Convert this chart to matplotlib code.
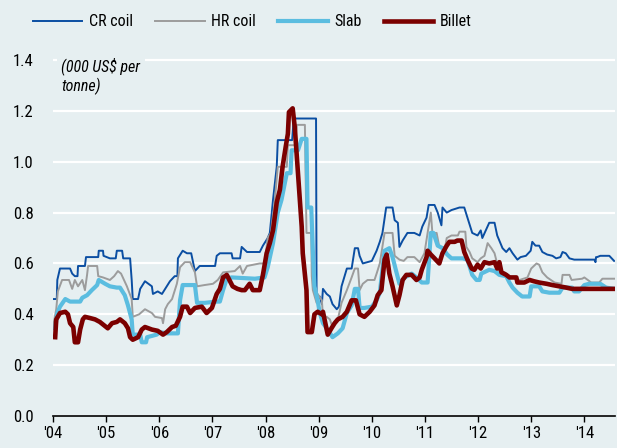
"""
Steel price chart: CR coil, HR coil, slab and billet, 2004-2014.
"""

import matplotlib
matplotlib.use("Agg")
import matplotlib.pyplot as plt
from matplotlib import font_manager

# --- data (000 US$ per tonne), time as decimal year ---
cr_t = [2004.00, 2004.07, 2004.08, 2004.13, 2004.32, 2004.36, 2004.41, 2004.46, 2004.47, 2004.60,
        2004.62, 2004.85, 2004.86, 2004.94, 2004.95, 2005.07, 2005.18, 2005.20, 2005.30, 2005.32,
        2005.45, 2005.48, 2005.50, 2005.60, 2005.64, 2005.73, 2005.86, 2005.88, 2005.97, 2006.05,
        2006.11, 2006.20, 2006.29, 2006.34, 2006.35, 2006.44, 2006.52, 2006.60, 2006.67, 2006.76,
        2007.05, 2007.08, 2007.14, 2007.36, 2007.38, 2007.52, 2007.55, 2007.65, 2007.89, 2007.95,
        2008.04, 2008.08, 2008.14, 2008.21, 2008.23, 2008.50, 2008.53, 2008.95, 2008.96, 2009.02,
        2009.06, 2009.08, 2009.15, 2009.21, 2009.26, 2009.34, 2009.38, 2009.43, 2009.53, 2009.62,
        2009.68, 2009.74, 2009.77, 2009.83, 2010.00, 2010.09, 2010.15, 2010.20, 2010.27, 2010.39,
        2010.43, 2010.49, 2010.52, 2010.58, 2010.67, 2010.80, 2010.90, 2010.95, 2011.03, 2011.07,
        2011.18, 2011.24, 2011.31, 2011.33, 2011.41, 2011.50, 2011.65, 2011.74, 2011.80, 2011.89,
        2011.99, 2012.05, 2012.08, 2012.21, 2012.31, 2012.36, 2012.40, 2012.46, 2012.53, 2012.59,
        2012.65, 2012.74, 2012.80, 2012.90, 2012.99, 2013.02, 2013.08, 2013.15, 2013.21, 2013.30,
        2013.40, 2013.47, 2013.55, 2013.59, 2013.65, 2013.72, 2013.81, 2014.19, 2014.21, 2014.22,
        2014.24, 2014.30, 2014.47, 2014.56]
cr_v = [0.46, 0.46, 0.535, 0.58, 0.58, 0.56, 0.55, 0.55, 0.59, 0.59,
        0.625, 0.625, 0.65, 0.65, 0.63, 0.62, 0.62, 0.65, 0.65, 0.62,
        0.62, 0.535, 0.46, 0.46, 0.50, 0.53, 0.51, 0.48, 0.49, 0.48,
        0.50, 0.53, 0.55, 0.55, 0.62, 0.65, 0.64, 0.64, 0.57, 0.59,
        0.59, 0.63, 0.64, 0.64, 0.62, 0.62, 0.665, 0.645, 0.645, 0.67,
        0.70, 0.72, 0.85, 0.98, 1.085, 1.085, 1.17, 1.17, 0.47, 0.47,
        0.44, 0.50, 0.48, 0.47, 0.44, 0.42, 0.43, 0.51, 0.58, 0.58,
        0.66, 0.66, 0.63, 0.60, 0.61, 0.65, 0.685, 0.72, 0.82, 0.82,
        0.77, 0.76, 0.665, 0.69, 0.72, 0.72, 0.71, 0.745, 0.78, 0.83,
        0.83, 0.80, 0.75, 0.82, 0.80, 0.81, 0.82, 0.82, 0.78, 0.72,
        0.71, 0.73, 0.70, 0.76, 0.76, 0.71, 0.69, 0.66, 0.645, 0.66,
        0.64, 0.615, 0.625, 0.63, 0.65, 0.685, 0.67, 0.67, 0.645, 0.635,
        0.63, 0.62, 0.625, 0.645, 0.64, 0.62, 0.615, 0.615, 0.605, 0.625,
        0.625, 0.63, 0.63, 0.61]

hr_t = [2004.00, 2004.06, 2004.09, 2004.17, 2004.30, 2004.36, 2004.41, 2004.47, 2004.55, 2004.60,
        2004.64, 2004.66, 2004.83, 2004.85, 2004.94, 2005.07, 2005.15, 2005.22, 2005.28, 2005.39,
        2005.48, 2005.50, 2005.62, 2005.73, 2005.86, 2005.92, 2006.05, 2006.07, 2006.11, 2006.16,
        2006.24, 2006.33, 2006.39, 2006.48, 2006.58, 2006.67, 2006.71, 2006.85, 2007.01, 2007.10,
        2007.20, 2007.42, 2007.52, 2007.57, 2007.65, 2007.89, 2007.98, 2008.04, 2008.10, 2008.17,
        2008.23, 2008.40, 2008.42, 2008.55, 2008.59, 2008.74, 2008.77, 2008.86, 2008.87, 2008.89,
        2008.96, 2008.98, 2009.06, 2009.08, 2009.15, 2009.21, 2009.26, 2009.36, 2009.43, 2009.53,
        2009.62, 2009.68, 2009.74, 2009.77, 2009.83, 2009.92, 2010.05, 2010.09, 2010.15, 2010.24,
        2010.39, 2010.43, 2010.52, 2010.60, 2010.67, 2010.80, 2010.90, 2010.99, 2011.05, 2011.11,
        2011.14, 2011.22, 2011.27, 2011.38, 2011.41, 2011.50, 2011.62, 2011.65, 2011.76, 2011.78,
        2011.84, 2011.89, 2011.99, 2012.05, 2012.12, 2012.18, 2012.25, 2012.31, 2012.40, 2012.50,
        2012.63, 2012.78, 2012.93, 2013.00, 2013.10, 2013.15, 2013.21, 2013.30, 2013.44, 2013.57,
        2013.59, 2013.72, 2013.76, 2013.96, 2014.00, 2014.13, 2014.28, 2014.34, 2014.56]
hr_v = [0.35, 0.42, 0.49, 0.535, 0.535, 0.50, 0.535, 0.51, 0.535, 0.495,
        0.555, 0.59, 0.59, 0.55, 0.545, 0.535, 0.55, 0.57, 0.56, 0.51,
        0.46, 0.39, 0.40, 0.42, 0.405, 0.39, 0.385, 0.365, 0.42, 0.44,
        0.46, 0.52, 0.585, 0.605, 0.605, 0.565, 0.51, 0.515, 0.52, 0.535,
        0.565, 0.57, 0.59, 0.56, 0.59, 0.60, 0.60, 0.70, 0.72, 0.84,
        0.98, 0.98, 1.065, 1.065, 1.145, 1.145, 0.72, 0.72, 0.55, 0.495,
        0.445, 0.48, 0.455, 0.39, 0.39, 0.38, 0.35, 0.38, 0.445, 0.495,
        0.545, 0.58, 0.58, 0.495, 0.52, 0.535, 0.535, 0.56, 0.60, 0.72,
        0.72, 0.63, 0.615, 0.61, 0.625, 0.625, 0.605, 0.64, 0.72, 0.80,
        0.72, 0.72, 0.665, 0.665, 0.70, 0.71, 0.71, 0.725, 0.725, 0.665,
        0.645, 0.62, 0.605, 0.62, 0.63, 0.68, 0.66, 0.64, 0.565, 0.565,
        0.545, 0.535, 0.545, 0.58, 0.60, 0.595, 0.565, 0.545, 0.525, 0.52,
        0.555, 0.555, 0.535, 0.54, 0.545, 0.525, 0.525, 0.54, 0.54]

slab_t = [2004.04, 2004.08, 2004.13, 2004.23, 2004.32, 2004.51, 2004.55, 2004.64, 2004.73, 2004.83,
          2004.86, 2004.98, 2005.07, 2005.20, 2005.26, 2005.35, 2005.41, 2005.48, 2005.50, 2005.64,
          2005.67, 2005.75, 2005.77, 2005.95, 2006.01, 2006.14, 2006.35, 2006.39, 2006.44, 2006.67,
          2006.71, 2006.85, 2007.08, 2007.14, 2007.20, 2007.27, 2007.36, 2007.80, 2007.98, 2008.04,
          2008.14, 2008.23, 2008.30, 2008.40, 2008.47, 2008.49, 2008.61, 2008.68, 2008.77, 2008.79,
          2008.86, 2008.89, 2008.92, 2008.98, 2009.02, 2009.08, 2009.17, 2009.26, 2009.36, 2009.45,
          2009.53, 2009.62, 2009.68, 2009.74, 2009.77, 2009.86, 2010.00, 2010.09, 2010.15, 2010.24,
          2010.33, 2010.39, 2010.47, 2010.52, 2010.62, 2010.75, 2010.84, 2010.94, 2011.05, 2011.11,
          2011.16, 2011.24, 2011.33, 2011.42, 2011.50, 2011.71, 2011.80, 2011.89, 2011.97, 2012.03,
          2012.06, 2012.21, 2012.31, 2012.40, 2012.53, 2012.59, 2012.65, 2012.74, 2012.83, 2012.97,
          2013.00, 2013.15, 2013.21, 2013.34, 2013.53, 2013.59, 2013.77, 2013.81, 2013.90, 2014.00,
          2014.09, 2014.30, 2014.41, 2014.56]
slab_v = [0.345, 0.405, 0.43, 0.46, 0.45, 0.45, 0.465, 0.475, 0.495, 0.515,
          0.535, 0.52, 0.51, 0.505, 0.505, 0.475, 0.435, 0.38, 0.32, 0.32,
          0.29, 0.29, 0.31, 0.32, 0.33, 0.325, 0.325, 0.455, 0.515, 0.515,
          0.445, 0.445, 0.45, 0.45, 0.495, 0.54, 0.545, 0.54, 0.545, 0.585,
          0.68, 0.80, 0.85, 0.955, 0.955, 1.045, 1.045, 1.09, 1.09, 0.82,
          0.82, 0.65, 0.51, 0.455, 0.405, 0.365, 0.34, 0.31, 0.325, 0.345,
          0.405, 0.435, 0.50, 0.50, 0.425, 0.425, 0.43, 0.455, 0.485, 0.65,
          0.66, 0.625, 0.56, 0.52, 0.545, 0.56, 0.545, 0.525, 0.525, 0.72,
          0.72, 0.67, 0.66, 0.635, 0.62, 0.62, 0.615, 0.555, 0.535, 0.535,
          0.56, 0.575, 0.57, 0.555, 0.55, 0.525, 0.505, 0.485, 0.47, 0.47,
          0.51, 0.51, 0.49, 0.485, 0.485, 0.505, 0.505, 0.49, 0.49, 0.515,
          0.52, 0.52, 0.505, 0.50]

billet_t = [2004.04, 2004.06, 2004.13, 2004.23, 2004.28, 2004.32, 2004.38, 2004.41, 2004.47, 2004.51,
            2004.56, 2004.60, 2004.70, 2004.79, 2004.88, 2004.94, 2005.03, 2005.11, 2005.20, 2005.26,
            2005.35, 2005.41, 2005.45, 2005.50, 2005.60, 2005.67, 2005.73, 2005.86, 2005.97, 2006.07,
            2006.14, 2006.24, 2006.31, 2006.39, 2006.44, 2006.52, 2006.58, 2006.67, 2006.80, 2006.89,
            2006.99, 2007.08, 2007.14, 2007.20, 2007.27, 2007.33, 2007.38, 2007.47, 2007.55, 2007.61,
            2007.70, 2007.76, 2007.89, 2007.95, 2008.02, 2008.08, 2008.14, 2008.21, 2008.27, 2008.32,
            2008.38, 2008.42, 2008.44, 2008.51, 2008.55, 2008.61, 2008.68, 2008.70, 2008.77, 2008.79,
            2008.87, 2008.92, 2008.98, 2009.06, 2009.08, 2009.11, 2009.17, 2009.24, 2009.30, 2009.36,
            2009.45, 2009.53, 2009.62, 2009.70, 2009.77, 2009.86, 2009.96, 2010.05, 2010.11, 2010.18,
            2010.24, 2010.28, 2010.33, 2010.39, 2010.47, 2010.52, 2010.58, 2010.65, 2010.75, 2010.84,
            2010.90, 2010.94, 2011.03, 2011.05, 2011.11, 2011.18, 2011.27, 2011.33, 2011.41, 2011.46,
            2011.56, 2011.61, 2011.69, 2011.74, 2011.80, 2011.88, 2011.93, 2011.99, 2012.05, 2012.12,
            2012.21, 2012.31, 2012.36, 2012.40, 2012.44, 2012.53, 2012.59, 2012.72, 2012.74, 2012.87,
            2012.97, 2013.05, 2013.15, 2013.29, 2013.40, 2013.66, 2013.77, 2014.56]
billet_v = [0.31, 0.38, 0.405, 0.41, 0.40, 0.365, 0.35, 0.29, 0.29, 0.34,
            0.38, 0.39, 0.385, 0.38, 0.37, 0.36, 0.345, 0.365, 0.37, 0.38,
            0.365, 0.345, 0.31, 0.30, 0.31, 0.34, 0.35, 0.34, 0.335, 0.32,
            0.33, 0.35, 0.355, 0.39, 0.43, 0.43, 0.405, 0.425, 0.43, 0.405,
            0.425, 0.48, 0.50, 0.545, 0.555, 0.53, 0.51, 0.50, 0.495, 0.495,
            0.52, 0.495, 0.495, 0.555, 0.64, 0.68, 0.73, 0.84, 0.89, 0.98,
            1.06, 1.11, 1.195, 1.21, 1.135, 0.955, 0.745, 0.64, 0.495, 0.33,
            0.33, 0.40, 0.41, 0.40, 0.41, 0.38, 0.32, 0.345, 0.365, 0.38,
            0.39, 0.41, 0.455, 0.455, 0.40, 0.39, 0.41, 0.435, 0.475, 0.495,
            0.615, 0.635, 0.56, 0.51, 0.435, 0.475, 0.535, 0.555, 0.555, 0.535,
            0.545, 0.575, 0.625, 0.65, 0.635, 0.62, 0.60, 0.64, 0.67, 0.685,
            0.685, 0.69, 0.69, 0.645, 0.615, 0.58, 0.575, 0.595, 0.58, 0.605,
            0.60, 0.605, 0.58, 0.605, 0.565, 0.555, 0.545, 0.545, 0.525, 0.525,
            0.535, 0.53, 0.525, 0.52, 0.515, 0.505, 0.50, 0.50]

year_ticks = list(range(2004, 2015))
year_labels = ["'%02d" % (y % 100) for y in year_ticks]
y_ticks = [0.0, 0.2, 0.4, 0.6, 0.8, 1.0, 1.2, 1.4]

BG = '#E6EFF1'

# a narrow font suits the original better; fall back to condensed DejaVu
names = {f.name for f in font_manager.fontManager.ttflist}
for cand in ['Liberation Sans Narrow', 'Roboto Condensed', 'Open Sans Condensed']:
    if cand in names:
        plt.rcParams['font.family'] = cand
        break
else:
    plt.rcParams['font.family'] = 'DejaVu Sans'
    plt.rcParams['font.stretch'] = 'condensed'

fig = plt.figure(figsize=(6.17, 4.48), dpi=100, facecolor=BG)
# y range runs a touch past 1.4 so the top gridline is not clipped
ax = fig.add_axes([0.086, 0.0714, 0.911, 0.8003], facecolor=BG)

ax.plot(cr_t, cr_v, color='#0B4EA2', lw=1.4, label='CR coil')
ax.plot(hr_t, hr_v, color='#9C9C9C', lw=1.4, label='HR coil')
ax.plot(slab_t, slab_v, color='#5BBDE0', lw=3.0, label='Slab')
ax.plot(billet_t, billet_v, color='#7B0000', lw=3.3, label='Billet')

ax.set_xlim(2004, 2014.58)
ax.set_ylim(0, 1.41)
ax.set_xticks(year_ticks)
ax.set_xticklabels(year_labels)
ax.set_yticks(y_ticks)
ax.set_yticklabels(['%.1f' % v for v in y_ticks])

ax.grid(axis='y', color='white', lw=1.6)
ax.set_axisbelow(True)
for s in ['top', 'right', 'left']:
    ax.spines[s].set_visible(False)
ax.spines['bottom'].set_color('black')
ax.spines['bottom'].set_linewidth(1.2)
ax.tick_params(axis='x', direction='out', length=4, width=1, color='black',
               labelsize=12, pad=3)
ax.tick_params(axis='y', length=0, labelsize=12, pad=14)

ax.text(0.015, 1.0, '(000 US$ per\ntonne)', transform=ax.transAxes,
        fontsize=11.5, style='italic', va='top', ha='left', linespacing=1.2,
        bbox=dict(facecolor=BG, edgecolor='none', pad=3))

fig.legend(loc='upper left', bbox_to_anchor=(0.03, 1.0), ncol=4, frameon=False,
           fontsize=11.5, handlelength=3.1, handletextpad=0.4, columnspacing=1.4)

fig.savefig('out.png', dpi=100, facecolor=BG)
